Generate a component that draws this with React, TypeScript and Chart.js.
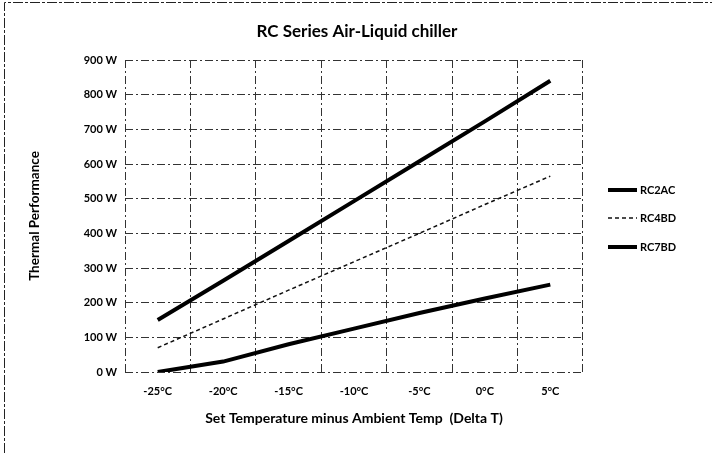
import React, { useEffect, useRef } from "react";
import { Chart, registerables } from "chart.js";

Chart.register(...registerables);

const chartTitle = "RC Series Air-Liquid chiller";
const xAxisTitle = "Set Temperature minus Ambient Temp  (Delta T)";
const yAxisTitle = "Thermal Performance";

const categories = ["-25°C", "-20°C", "-15°C", "-10°C", "-5°C", "0°C", "5°C"];
const seriesNames = ["RC2AC", "RC4BD", "RC7BD"];
const rc2ac = [150, 263, 378, 493, 608, 723, 840];
const rc4bd = [70, 153, 236, 318, 400, 483, 565];
const rc7bd = [0, 30, 80, 125, 170, 212, 252];
const yMin = 0;
const yMax = 900;
const yStep = 100;
const yUnit = " W";

const FONT = "Lato, 'Open Sans', sans-serif";

const overlayPlugin = {
  id: "overlay",
  beforeDraw(chart: any) {
    const { ctx } = chart;
    ctx.save();
    ctx.fillStyle = "#fff";
    ctx.fillRect(0, 0, chart.width, chart.height);
    ctx.strokeStyle = "#222";
    ctx.lineWidth = 1;
    ctx.setLineDash([10, 2, 3, 2]);
    ctx.beginPath();
    ctx.moveTo(4.5, chart.height);
    ctx.lineTo(4.5, 2.5);
    ctx.lineTo(chart.width - 3, 2.5);
    ctx.stroke();
    ctx.restore();
  },
  afterDraw(chart: any) {
    const { ctx, chartArea } = chart;
    const cx = (chartArea.left + chartArea.right) / 2;
    const cy = (chartArea.top + chartArea.bottom) / 2;
    ctx.save();
    ctx.fillStyle = "#000";
    ctx.textAlign = "center";
    ctx.textBaseline = "middle";
    ctx.font = `bold 17px ${FONT}`;
    ctx.fillText(chartTitle, 357, 32);
    ctx.font = `bold 14px ${FONT}`;
    ctx.fillText(xAxisTitle, cx, 418);
    ctx.save();
    ctx.translate(35, cy);
    ctx.rotate(-Math.PI / 2);
    ctx.font = `bold 13.5px ${FONT}`;
    ctx.fillText(yAxisTitle, 0, 0);
    ctx.restore();
    // legend
    const ys = [190, 218, 247];
    chart.data.datasets.forEach((ds: any, i: number) => {
      const y = ys[i];
      ctx.save();
      ctx.strokeStyle = ds.borderColor;
      ctx.lineWidth = ds.borderWidth;
      ctx.setLineDash(ds.borderDash || []);
      ctx.beginPath();
      ctx.moveTo(chartArea.right + 25, y);
      ctx.lineTo(chartArea.right + 54, y);
      ctx.stroke();
      ctx.restore();
      ctx.font = `bold 11px ${FONT}`;
      ctx.textAlign = "left";
      ctx.fillText(ds.label, chartArea.right + 57, y);
    });
    ctx.restore();
  },
};

export default function App() {
  const ref = useRef<HTMLCanvasElement | null>(null);
  useEffect(() => {
    if (!ref.current) return;
    const chart = new Chart(ref.current, {
      type: "line",
      data: {
        labels: categories,
        datasets: [
          { label: seriesNames[0], data: rc2ac, borderColor: "#000", borderWidth: 4, pointRadius: 0, tension: 0 },
          { label: seriesNames[1], data: rc4bd, borderColor: "#111", borderWidth: 1.5, borderDash: [4, 3], pointRadius: 0, tension: 0 },
          { label: seriesNames[2], data: rc7bd, borderColor: "#000", borderWidth: 4, pointRadius: 0, tension: 0 },
        ],
      },
      options: {
        responsive: false,
        animation: false,
        devicePixelRatio: 1,
        layout: { padding: { top: 60, right: 132, bottom: 0, left: 0 } },
        plugins: { legend: { display: false }, title: { display: false }, tooltip: { enabled: false } },
        scales: {
          x: {
            type: "category",
            offset: true,
            grid: { offset: true, color: "#333", lineWidth: 1, drawTicks: false },
            border: { display: false, dash: [8, 3, 2, 3] },
            ticks: { color: "#000", padding: 13, font: { family: FONT, weight: "bold", size: 11 }, maxRotation: 0 },
            afterFit: (s: any) => { s.height = 81; },
          },
          y: {
            min: yMin,
            max: yMax,
            grid: { color: "#333", lineWidth: 1, drawTicks: false },
            border: { display: false, dash: [8, 3, 2, 3] },
            ticks: {
              stepSize: yStep,
              color: "#000",
              padding: 8,
              font: { family: FONT, weight: "bold", size: 11 },
              callback: (v: any) => `${v}${yUnit}`,
            },
            afterFit: (s: any) => { s.width = 125; },
          },
        },
      },
      plugins: [overlayPlugin],
    });
    return () => chart.destroy();
  }, []);
  return (
    <div style={{ position: "fixed", left: 0, top: 0, width: 715, height: 453, background: "#fff" }}>
      <canvas ref={ref} width={715} height={453} style={{ display: "block" }} />
    </div>
  );
}
